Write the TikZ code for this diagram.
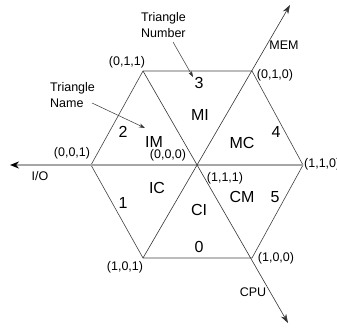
\documentclass[tikz,border=0pt]{standalone}
\usepackage{fontspec}
\setmainfont{Liberation Sans}
\usetikzlibrary{arrows.meta}
\begin{document}
\begin{tikzpicture}[x=1pt,y=-1pt,
  edge/.style={draw=black!75, line width=0.6pt},
  axis/.style={draw=black!80, line width=0.6pt, -{Stealth[length=9pt,width=6pt]}},
  ioaxis/.style={draw=black!35, line width=1.8pt, -{Stealth[length=9pt,width=7pt,black]}},
  pointer/.style={draw=black!80, line width=0.5pt, -{Stealth[length=6pt,width=4pt]}},
  coord/.style={font=\fontsize{12.5}{14}\selectfont, inner sep=0pt},
  big/.style={font=\fontsize{16}{18}\selectfont, inner sep=0pt},
  lbl/.style={font=\fontsize{12.5}{16}\selectfont, inner sep=0pt, align=left, anchor=west}]
\useasboundingbox (0,0) rectangle (337,329);
% vertices
\coordinate (C) at (197,165);
\coordinate (v001) at (91,165);
\coordinate (v110) at (303,165);
\coordinate (v011) at (143,71);
\coordinate (v010) at (252,71);
\coordinate (v101) at (143,258);
\coordinate (v100) at (252,258);
\coordinate (tipIO) at (10,165);
\coordinate (tipMEM) at (290,5);
\coordinate (tipCPU) at (288,323);
% hexagon
\draw[edge] (v001) -- (v011) -- (v010) -- (v110) -- (v100) -- (v101) -- cycle;
% axes
\draw[ioaxis] (v110) -- (tipIO);
\draw[axis] (v101) -- (tipMEM);
\draw[axis] (v011) -- (tipCPU);
% coordinate labels
\node[coord] (l011) at (127,62) {(0,1,1)};
\node[coord] (l010) at (275,75) {(0,1,0)};
\node[coord] (l001) at (72,153) {(0,0,1)};
\node[coord] (l000) at (168,155) {(0,0,0)};
\node[coord] (l111) at (225,178) {(1,1,1)};
\node[coord, anchor=west] (l110) at (304,164) {(1,1,0)};
\node[coord] (l101) at (125,267) {(1,0,1)};
\node[coord] (l100) at (276,258) {(1,0,0)};
% axis names
\node[coord] (mem) at (284,45) {MEM};
\node[coord] (io) at (40,176) {I/O};
\node[coord] (cpu) at (253,292) {CPU};
% triangle names and numbers
\node[big] (n3) at (199,83) {3};
\node[big] (n2) at (123,132) {2};
\node[big] (n4) at (276,132) {4};
\node[big] (n1) at (123,203) {1};
\node[big] (n5) at (275,197) {5};
\node[big] (n0) at (199,247) {0};
\node[big] (tIM) at (154,142) {IM};
\node[big] (tMI) at (200,115) {MI};
\node[big] (tMC) at (242,143) {MC};
\node[big] (tIC) at (157,188) {IC};
\node[big] (tCM) at (242,197) {CM};
\node[big] (tCI) at (199,210) {CI};
% explanatory labels
\node[lbl] (tnum) at (141,25) {Triangle\\Number};
\node[lbl] (tname) at (50,95.5) {Triangle\\Name};
\coordinate (p1s) at (173,42);
\coordinate (p1e) at (193,77);
\coordinate (p2s) at (92,103);
\coordinate (p2e) at (145,128);
\draw[pointer] (p1s) -- (p1e);
\draw[pointer] (p2s) -- (p2e);
\end{tikzpicture}
\end{document}
